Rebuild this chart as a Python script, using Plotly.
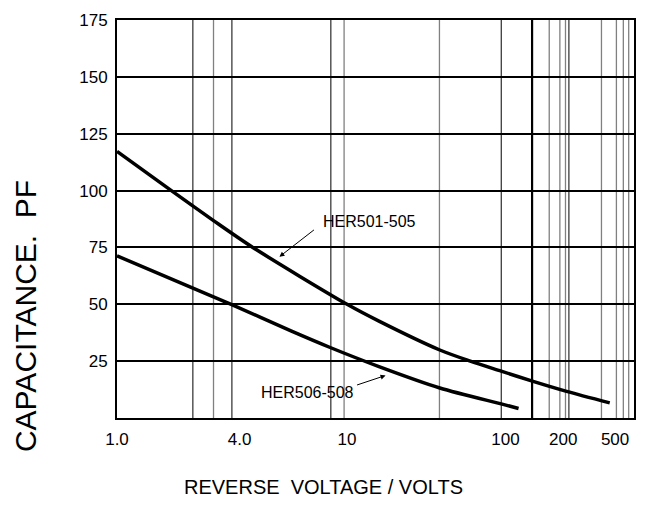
import numpy as np
import plotly.graph_objects as go

# ---- data ----
her501_volts = [1.0, 1.85, 2.98, 4.48, 10.0, 15.9, 38.5, 60, 94, 138, 212, 455]
her501_pf = [117.2, 100, 86.8, 75, 50, 42.6, 29.9, 25, 20.6, 16.2, 11.7, 6.65]

her506_volts = [1.0, 2.36, 3.64, 6.2, 8.66, 15.9, 38.5, 94, 117]
her506_pf = [71.3, 57.1, 50, 38.3, 31, 22.6, 13.2, 6.2, 4.2]

x_tick_volts = [1.0, 4.0, 10, 100, 200, 500]
x_tick_text = ["1.0", "4.0", "10", "100", "200", "500"]
y_tick_vals = [25, 50, 75, 100, 125, 150, 175]

# vertical grid lines of the original chart (volts)
grid_black_volts = [2.36, 3.67, 8.71, 94, 221]
grid_thick_volts = [137.6]
grid_gray_volts = [2.98, 9.75, 38.3, 169, 192, 208, 393, 512, 579, 637]

# the chart's own (non-uniform, piecewise-log) voltage scale
scale_volts = [1, 4, 10, 100, 200, 500, 700]
scale_frac = [0, 0.237, 0.445, 0.7514, 0.8632, 0.9634, 1.0]


def to_axis(v):
    return np.interp(np.log10(np.asarray(v, dtype=float)), np.log10(scale_volts), scale_frac)


FONT = "Liberation Sans, Arial, sans-serif"

fig = go.Figure()
for xs, ys in [(her501_volts, her501_pf), (her506_volts, her506_pf)]:
    fig.add_trace(go.Scatter(
        x=to_axis(xs), y=ys, mode="lines",
        line=dict(color="black", width=3.5, shape="spline", smoothing=0.8),
        hoverinfo="skip", showlegend=False))

shapes = []
for group, color, width in [(grid_gray_volts, "#808080", 1.3),
                            (grid_black_volts, "black", 1),
                            (grid_thick_volts, "black", 2.2)]:
    for gx in to_axis(group):
        shapes.append(dict(type="line", xref="x", yref="paper", x0=gx, x1=gx, y0=0, y1=1,
                           line=dict(color=color, width=width), layer="below"))

annotations = [
    dict(text="HER501-505", x=to_axis([8.0])[0], y=86.5, xref="x", yref="y",
         xanchor="left", yanchor="middle", showarrow=False,
         font=dict(family=FONT, size=16, color="black")),
    dict(text=" ", x=to_axis([5.62])[0], y=70.9, xref="x", yref="y",
         showarrow=True, ax=36, ay=-28, arrowhead=2, arrowsize=1, arrowwidth=1,
         arrowcolor="black", standoff=0, font=dict(size=1)),
    dict(text="HER506-508", x=to_axis([11.4])[0], y=11.3, xref="x", yref="y",
         xanchor="right", yanchor="middle", showarrow=False,
         font=dict(family=FONT, size=16, color="black")),
    dict(text=" ", x=to_axis([17.5])[0], y=18.7, xref="x", yref="y",
         showarrow=True, ax=-30, ay=10, arrowhead=2, arrowsize=1, arrowwidth=1,
         arrowcolor="black", standoff=0, font=dict(size=1)),
    dict(text="CAPACITANCE.  PF", x=-0.178, y=0.256, xref="paper", yref="paper",
         xanchor="center", yanchor="middle", textangle=-90, showarrow=False,
         font=dict(family=FONT, size=30, color="black")),
    dict(text="REVERSE  VOLTAGE / VOLTS", x=0.399, y=-0.204, xref="paper", yref="paper",
         xanchor="center", yanchor="bottom", showarrow=False, borderpad=0,
         font=dict(family=FONT, size=20, color="black")),
]

# the page body has an 8px default margin: the figure is sized to fit inside it
fig.update_layout(
    width=631, height=492,
    margin=dict(l=109, r=3, t=8, b=82),
    paper_bgcolor="white", plot_bgcolor="white",
    shapes=shapes, annotations=annotations,
    xaxis=dict(range=[0, 1], showgrid=False, zeroline=False,
               showline=True, mirror=True, linecolor="black", linewidth=2,
               tickvals=to_axis(x_tick_volts), ticktext=x_tick_text, ticks="",
               ticklabelstandoff=5,
               tickfont=dict(family=FONT, size=17, color="black")),
    yaxis=dict(range=[0, 175], tickvals=y_tick_vals, showgrid=True,
               gridcolor="black", gridwidth=1.6, zeroline=False,
               showline=True, mirror=True, linecolor="black", linewidth=2,
               ticks="", ticklabelstandoff=4, ticklabeloverflow="allow",
               tickfont=dict(family=FONT, size=17, color="black")),
)

fig.write_html("out.html")
